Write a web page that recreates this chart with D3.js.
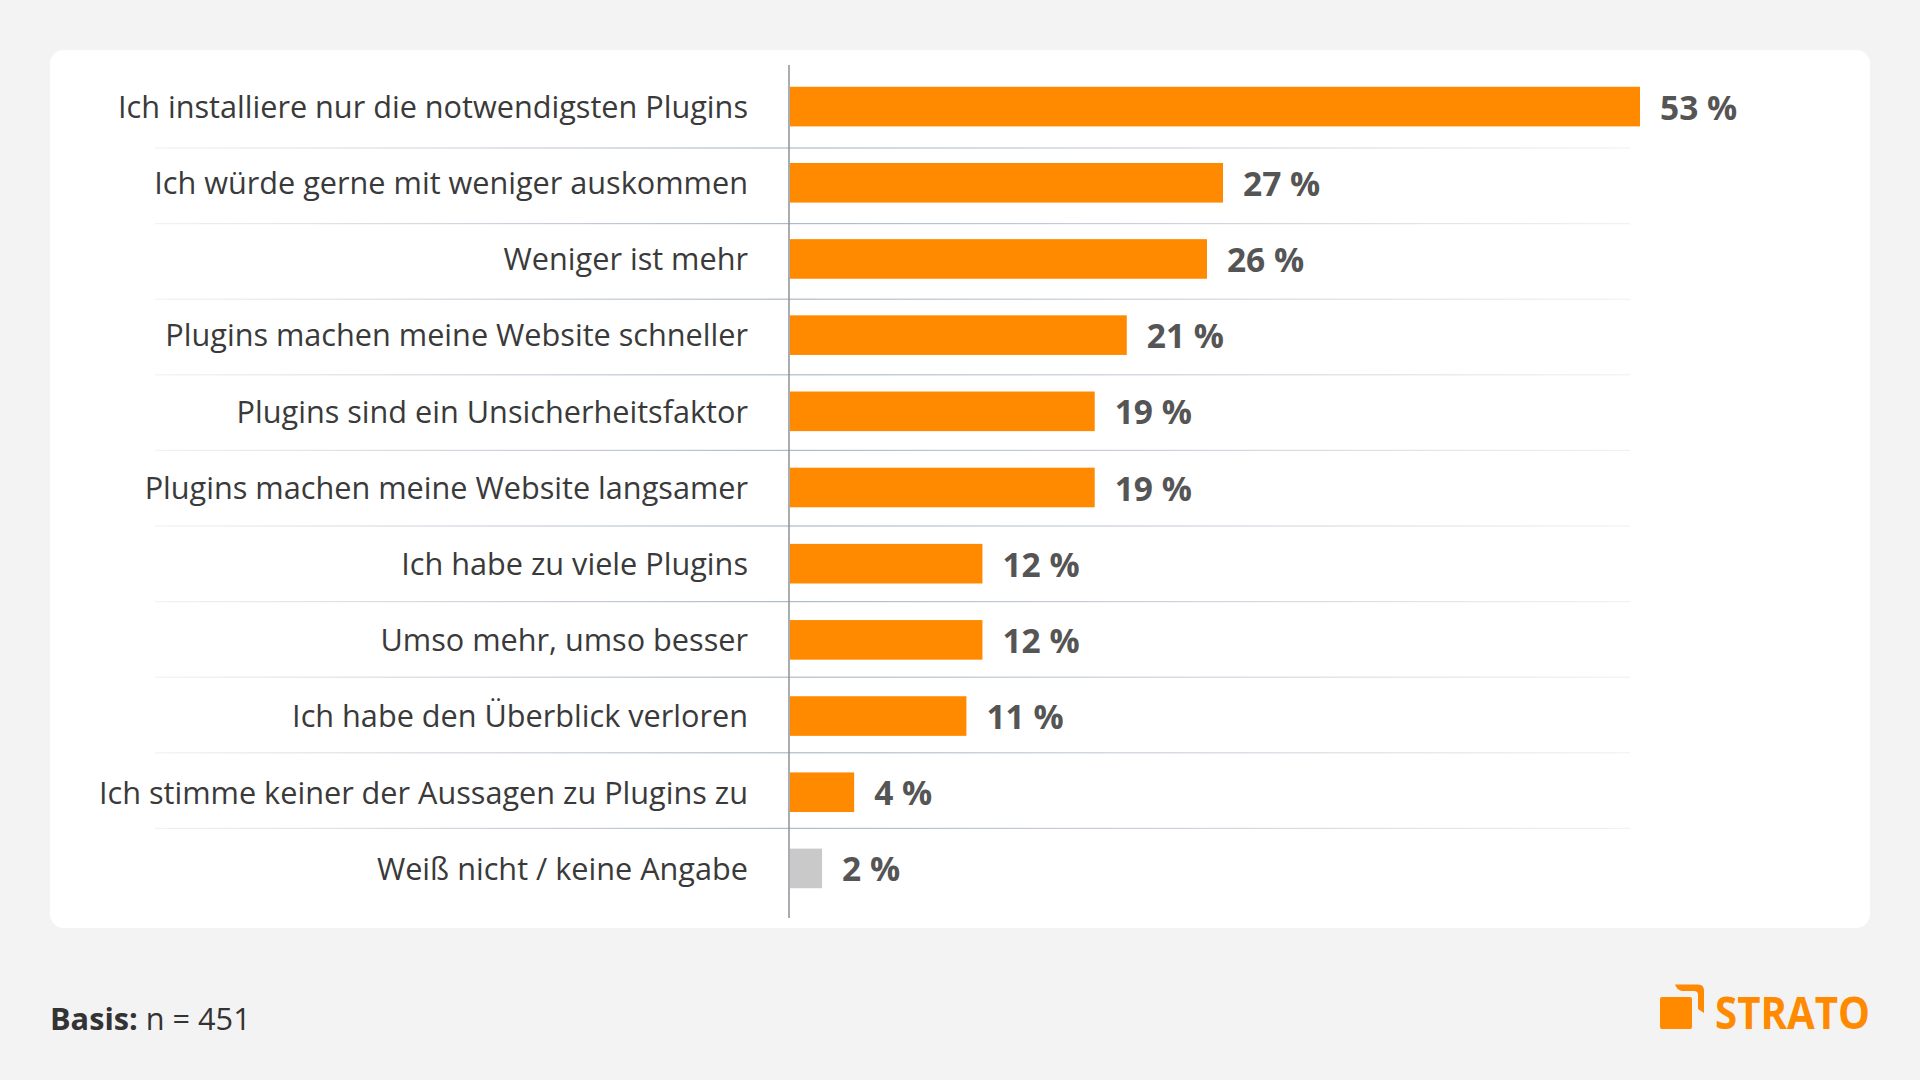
<!DOCTYPE html>
<html>
<head>
<meta charset="utf-8">
<script src="https://cdn.jsdelivr.net/npm/d3@7"></script>
<style>
  html, body { margin: 0; background: #f3f3f3; }
  svg { display: block; font-family: "Open Sans", sans-serif; }
</style>
</head>
<body>
<svg width="1920" height="1080"></svg>
<script>
var categories = [
  "Ich installiere nur die notwendigsten Plugins",
  "Ich würde gerne mit weniger auskommen",
  "Weniger ist mehr",
  "Plugins machen meine Website schneller",
  "Plugins sind ein Unsicherheitsfaktor",
  "Plugins machen meine Website langsamer",
  "Ich habe zu viele Plugins",
  "Umso mehr, umso besser",
  "Ich habe den Überblick verloren",
  "Ich stimme keiner der Aussagen zu Plugins zu",
  "Weiß nicht / keine Angabe"
];
var values = [53, 27, 26, 21, 19, 19, 12, 12, 11, 4, 2];
var noAnswer = "Weiß nicht / keine Angabe";

var svg = d3.select("svg");

// white card
svg.append("rect")
  .attr("x", 50).attr("y", 50)
  .attr("width", 1820).attr("height", 878)
  .attr("rx", 14)
  .attr("fill", "#fff");

var x = d3.scaleLinear().domain([0, 53]).range([790, 1640]);
var y = d3.scaleBand().domain(categories).range([68.5, 906.5]).paddingInner(0.48).paddingOuter(0.24);
// separators run on a slightly tighter step than the bars
var sepY = d3.scalePoint().domain(categories.slice(0, -1)).range([147.4, 827.8]);

// row separators fade out to both sides
var grad = svg.append("defs").append("linearGradient")
  .attr("id", "sep")
  .attr("gradientUnits", "userSpaceOnUse")
  .attr("x1", 155).attr("x2", 1630).attr("y1", 0).attr("y2", 0);
grad.append("stop").attr("offset", 0).attr("stop-color", "#f2f2f2");
grad.append("stop").attr("offset", 0.43).attr("stop-color", "#aeb9ca");
grad.append("stop").attr("offset", 1).attr("stop-color", "#f2f2f2");

svg.append("g").selectAll("rect")
  .data(sepY.domain())
  .join("rect")
  .attr("x", 155)
  .attr("width", 1475)
  .attr("y", function(d){return sepY(d);})
  .attr("height", 1.2)
  .attr("fill", "url(#sep)");

// bars
svg.append("g").selectAll("rect")
  .data(values)
  .join("rect")
  .attr("x", x(0))
  .attr("y", function(d, i){return y(categories[i]);})
  .attr("width", function(d){return x(d) - x(0);})
  .attr("height", y.bandwidth())
  .attr("fill", function(d, i){return categories[i] === noAnswer ? "#c9c9c9" : "#ff8a00";});

// value labels
svg.append("g").selectAll("text")
  .data(values)
  .join("text")
  .attr("x", function(d){return x(d) + 20;})
  .attr("y", function(d, i){return y(categories[i]) + y.bandwidth() / 2 + 13;})
  .attr("font-size", 33.5)
  .attr("font-weight", 700)
  .attr("fill", "#555")
  .text(function(d){return d + " %";});

// category axis
var yAxis = svg.append("g")
  .attr("transform", "translate(789,1.5)")
  .call(d3.axisLeft(y).tickSize(0).tickPadding(41));
yAxis.select(".domain").remove();
yAxis.selectAll("text")
  .attr("font-family", "'Open Sans', sans-serif")
  .attr("font-size", 30.65)
  .attr("fill", "#3a3a3a");

svg.append("line")
  .attr("x1", 789).attr("x2", 789)
  .attr("y1", 65).attr("y2", 918)
  .attr("stroke", "#8d9298")
  .attr("stroke-width", 1.5);

// footer
var basis = svg.append("text")
  .attr("x", 50).attr("y", 1030)
  .attr("font-size", 30.7)
  .attr("fill", "#333");
basis.append("tspan").attr("font-weight", 700).text("Basis:");
basis.append("tspan").text(" n = 451");

// logo
var logo = svg.append("g").attr("fill", "#ff8a00");
logo.append("rect")
  .attr("x", 1660).attr("y", 997)
  .attr("width", 32).attr("height", 32)
  .attr("rx", 2);
logo.append("path")
  .attr("d", "M1675,984.5 H1698 Q1704,984.5 1704,990.5 V1013 L1698,1009 V995 Q1698,991 1694,991 H1682 Q1677,990 1675,984.5 Z");
logo.append("text")
  .attr("x", 1715).attr("y", 1029)
  .attr("font-size", 45)
  .attr("font-weight", 700)
  .attr("textLength", 155)
  .attr("lengthAdjust", "spacingAndGlyphs")
  .text("STRATO");
</script>
</body>
</html>
